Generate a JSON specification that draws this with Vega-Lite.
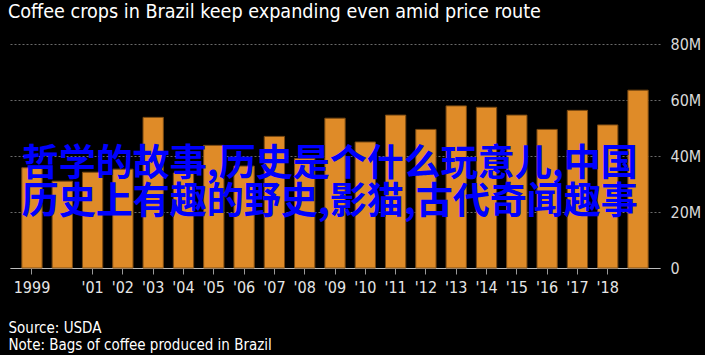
{
  "$schema": "https://vega.github.io/schema/vega-lite/v6.json",
  "width": 650,
  "height": 224,
  "autosize": {"type": "none"},
  "padding": {"left": 10, "top": 44, "right": 45, "bottom": 87},
  "background": "black",
  "title": {
    "text": "Coffee crops in Brazil keep expanding even amid price route",
    "anchor": "start",
    "frame": "group",
    "dx": -2,
    "offset": 13,
    "font": "DejaVu Sans Condensed, sans-serif",
    "fontSize": 19.6,
    "fontWeight": "normal",
    "color": "white"
  },
  "config": {
    "view": {"stroke": null},
    "font": "DejaVu Sans Condensed, sans-serif"
  },
  "data": {
    "values": [
      {"year": 1999, "bags_m": 35.8},
      {"year": 2000, "bags_m": 31.0},
      {"year": 2001, "bags_m": 34.2},
      {"year": 2002, "bags_m": 35.3},
      {"year": 2003, "bags_m": 53.8},
      {"year": 2004, "bags_m": 33.9},
      {"year": 2005, "bags_m": 43.8},
      {"year": 2006, "bags_m": 36.4},
      {"year": 2007, "bags_m": 47.0},
      {"year": 2008, "bags_m": 39.1},
      {"year": 2009, "bags_m": 53.5},
      {"year": 2010, "bags_m": 45.0},
      {"year": 2011, "bags_m": 54.6},
      {"year": 2012, "bags_m": 49.5},
      {"year": 2013, "bags_m": 57.9},
      {"year": 2014, "bags_m": 57.4},
      {"year": 2015, "bags_m": 54.6},
      {"year": 2016, "bags_m": 49.5},
      {"year": 2017, "bags_m": 56.3},
      {"year": 2018, "bags_m": 51.1},
      {"year": 2019, "bags_m": 63.5}
    ]
  },
  "layer": [
    {
      "mark": {"type": "bar", "fill": "#DF8B28", "stroke": "#7A4A12", "strokeWidth": 1},
      "encoding": {
        "x": {
          "field": "year",
          "type": "ordinal",
          "scale": {"paddingInner": 0.33, "paddingOuter": 0.39},
          "axis": {
            "values": [1999, 2001, 2002, 2003, 2004, 2005, 2006, 2007, 2008, 2009, 2010, 2011, 2012, 2013, 2014, 2015, 2016, 2017, 2018],
            "labelExpr": "datum.value == 1999 ? '1999' : \"'\" + substring(toString(datum.value), 2)",
            "labelAngle": 0,
            "labelOverlap": false,
            "labelFontSize": 16,
            "labelColor": "#E6E6E6",
            "labelPadding": 5,
            "domainColor": "#BBBBBB",
            "domainWidth": 1,
            "tickColor": "#999999",
            "tickSize": 6,
            "grid": false,
            "title": ["Source: USDA", "Note: Bags of coffee produced in Brazil"],
            "titleAnchor": "start",
            "titleAlign": "left",
            "titleBaseline": "top",
            "titleX": -2,
            "titleY": 52,
            "titleFontSize": 15,
            "titleFontWeight": "normal",
            "titleColor": "white",
            "titleLineHeight": 17
          }
        },
        "y": {
          "field": "bags_m",
          "type": "quantitative",
          "scale": {"domain": [0, 80], "nice": false},
          "axis": {
            "orient": "right",
            "values": [0, 20, 40, 60, 80],
            "labelExpr": "datum.value == 0 ? '0' : datum.value + 'M'",
            "labelFontSize": 16,
            "labelColor": "#D9D9D9",
            "labelPadding": 10,
            "ticks": false,
            "domain": false,
            "grid": true,
            "gridColor": "#6A6A6A",
            "gridDash": [2, 2],
            "gridWidth": 1.2,
            "title": null
          }
        }
      }
    },
    {
      "data": {"values": [{"note": "哲学的故事,历史是个什么玩意儿,中国\n历史上有趣的野史,影猫,古代奇闻趣事"}]},
      "mark": {
        "type": "text",
        "align": "left",
        "baseline": "middle",
        "lineBreak": "\n",
        "lineHeight": 38,
        "font": "Noto Sans CJK SC",
        "fontWeight": "bold",
        "fontSize": 37,
        "fill": "#0000FF"
      },
      "encoding": {
        "text": {"field": "note"},
        "x": {"datum": 1999, "type": "ordinal", "bandPosition": 0},
        "y": {"datum": 36.7, "type": "quantitative"}
      }
    }
  ]
}
